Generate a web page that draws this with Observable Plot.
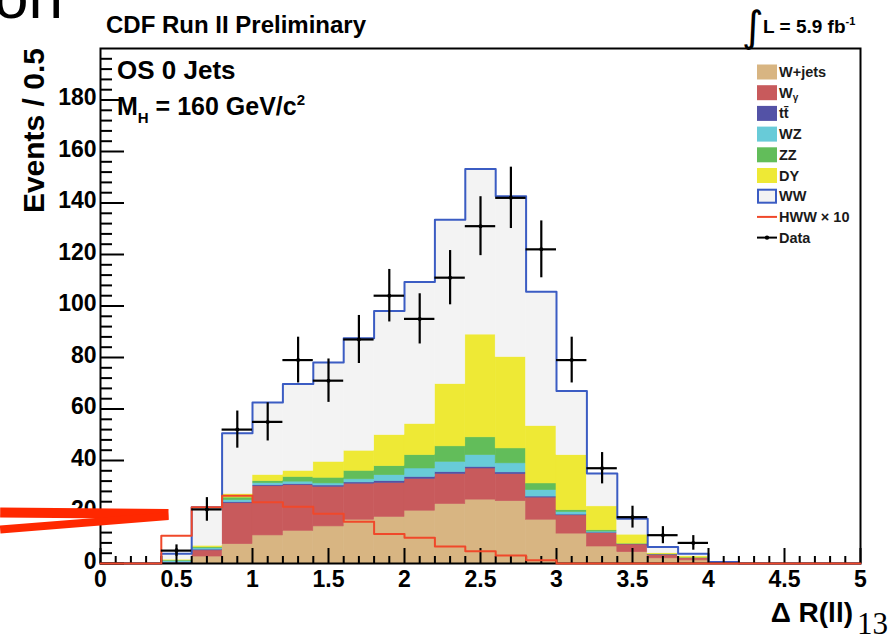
<!DOCTYPE html>
<html>
<head>
<meta charset="utf-8">
<script src="https://cdn.jsdelivr.net/npm/d3@7"></script>
<script src="https://cdn.jsdelivr.net/npm/@observablehq/plot@0.6"></script>
<style>
  html, body { margin: 0; padding: 0; background: #fff; }
  #chart { position: relative; width: 888px; height: 637px; overflow: hidden; }
  svg text { font-family: "Liberation Sans", Arial, Helvetica, sans-serif; }
</style>
</head>
<body>
<div id="chart"></div>
<script>
// ΔR(ll) distribution, OS 0 jets, MH = 160 GeV/c² — bins of 0.2
const binLow = [0.0, 0.2, 0.4, 0.6, 0.8, 1.0, 1.2, 1.4, 1.6, 1.8, 2.0, 2.2, 2.4, 2.6, 2.8, 3.0, 3.2, 3.4, 3.6, 3.8, 4.0, 4.2, 4.4, 4.6, 4.8];
const binWidth = 0.2;

// Background expectations per bin (stacked bottom to top)
const wjets  = [0, 0, 0,   2.7,  7.5, 10.9, 12.7, 14.4, 17.0, 18.1, 20.5, 23.1, 24.8, 24.2, 17.0, 11.6,  6.6, 4.4, 2.0, 1.2, 0.2, 0, 0, 0, 0];
const wgamma = [0, 0, 0.3, 2.4, 15.9, 19.1, 17.7, 15.4, 14.0, 13.2, 12.4, 11.7, 12.1, 10.5,  8.6,  7.1,  5.2, 3.0, 1.4, 1.0, 0.4, 0, 0, 0, 0];
const ttbar  = [0, 0, 0.1, 0.3,  0.4,  0.4,  0.4,  0.5,  0.5,  0.7,  0.7,  0.7,  0.6,  0.7,  0.4,  0.3,  0.2, 0.1, 0.1, 0,   0,   0, 0, 0, 0];
const wz     = [0, 0, 0.6, 0.5,  0.8,  0.8,  1.0,  0.8,  1.2,  2.3,  3.3,  4.0,  4.6,  3.5,  2.5,  1.0,  0.4, 0.1, 0,   0,   0,   0, 0, 0, 0];
const zz     = [0, 0, 0.2, 0.4,  1.0,  0.8,  1.8,  2.2,  3.3,  3.5,  5.2,  6.0,  6.9,  5.8,  2.6,  0.7,  0.5, 0.1, 0.1, 0.1, 0,   0, 0, 0, 0];
const dy     = [0, 0, 0.3, 0.6,  1.4,  2.4,  2.4,  6.2,  7.8, 12.1, 12.1, 24.2, 39.9, 35.5, 22.3, 21.4,  9.3, 3.5, 0.4, 0.5, 0,   0, 0, 0, 0];
const ww     = [0, 0, 2.3, 14.9, 23.6, 28.1, 33.7, 38.6, 43.7, 48.2, 55.1, 63.8, 64.3, 62.4, 52.1, 24.9, 12.8, 6.2, 2.4, 1.0, 0,   0, 0, 0, 0];

// Higgs signal (x10), drawn as an outline
const hww10  = [0, 0, 10.8, 21.8, 26.3, 23.8, 22.0, 19.3, 16.2, 11.5, 10.0, 6.6, 4.8, 3.1, 1.3, 0, 0, 0, 0, 0, 0, 0, 0, 0, 0];

// Observed events at bin centres
const dataX = [0.5, 0.7, 0.9, 1.1, 1.3, 1.5, 1.7, 1.9, 2.1, 2.3, 2.5, 2.7, 2.9, 3.1, 3.3, 3.5, 3.7, 3.9];
const dataN = [5, 21, 52, 55, 79, 71, 87, 104, 95, 111, 131, 142, 122, 79, 37, 18, 11, 8];

// Axis ticks
const xMajorTicks = [0, 0.5, 1, 1.5, 2, 2.5, 3, 3.5, 4, 4.5, 5];
const yMajorTicks = [0, 20, 40, 60, 80, 100, 120, 140, 160, 180];

// Legend / process styling (label = main text + optional subscript)
const processNames  = ["W+jets", "Wγ", "tt̄", "WZ", "ZZ", "DY", "WW"];
const processLabels = [["W+jets"], ["W", "γ"], ["tt̄"], ["WZ"], ["ZZ"], ["DY"], ["WW"]];
const processColors = ["#d8b582", "#c85a5c", "#5352a6", "#68cbd8", "#62bd5a", "#eee935", "#f3f3f3"];
const processValues = [wjets, wgamma, ttbar, wz, zz, dy, ww];

const W = 888, H = 637;
const mL = 100, mR = 28, mT = 48, mB = 74;
const plotW = W - mL - mR, plotH = H - mT - mB;

const wwColor = "#3b5cc3";
const hwwColor = "#f0482a";

const rects = processNames.flatMap((name, k) =>
  processValues[k].map((v, i) => ({x1: binLow[i], x2: binLow[i] + binWidth, y: v, name}))
);
const totals = binLow.map((_, i) => d3.sum(processValues, s => s[i]));
const stepOf = vals => binLow.map((x, i) => ({x, y: vals[i]})).concat([{x: binLow[binLow.length - 1] + binWidth, y: vals[vals.length - 1]}]);
const totalStep = stepOf(totals);
const hwwStep = stepOf(hww10);
const points = dataX.map((x, i) => ({x, n: dataN[i]}));

const yMinorTicks = d3.range(0, 200.01, 4).filter(v => v % 20 !== 0);
const xMinorTicks = d3.range(0, 51).map(i => i / 10).filter(v => Math.abs(v * 2 - Math.round(v * 2)) > 1e-6);

// slide arrow pointing at the signal
const arrow = [
  {x1: -0.66, y1: 19.8, x2: 0.447, y2: 19.2, w: 10},
  {x1: -0.66, y1: 13.2, x2: 0.447, y2: 18.4, w: 8}
];

const chart = Plot.plot({
  width: W, height: H,
  marginLeft: mL, marginRight: mR, marginTop: mT, marginBottom: mB,
  x: {domain: [0, 5]},
  y: {domain: [0, 200]},
  color: {domain: processNames, range: processColors},
  marks: [
    Plot.rectY(rects, {x1: "x1", x2: "x2", y: "y", fill: "name", stroke: "name", strokeWidth: 0.6}),
    Plot.line(totalStep, {x: "x", y: "y", curve: "step-after", stroke: wwColor, strokeWidth: 2}),
    Plot.frame({stroke: "black", strokeWidth: 2}),
    Plot.tickY(yMajorTicks, {y: d => d, insetRight: plotW - 24, stroke: "black", strokeWidth: 2}),
    Plot.tickY(yMinorTicks, {y: d => d, insetRight: plotW - 12, stroke: "black", strokeWidth: 2}),
    Plot.tickX(xMajorTicks, {x: d => d, insetTop: plotH - 15, stroke: "black", strokeWidth: 2}),
    Plot.tickX(xMinorTicks, {x: d => d, insetTop: plotH - 7, stroke: "black", strokeWidth: 2}),
    Plot.axisY({ticks: yMajorTicks, tickSize: 0, tickPadding: 4, fontSize: 23, fontWeight: "bold", label: null, dy: -2}),
    Plot.axisX({ticks: xMajorTicks, tickSize: 0, tickPadding: 7, fontSize: 23, fontWeight: "bold", label: null, tickFormat: d => String(d)}),
    Plot.line(hwwStep, {x: "x", y: "y", curve: "step-after", stroke: hwwColor, strokeWidth: 2}),
    Plot.ruleX(points, {x: "x", y1: d => d.n - Math.sqrt(d.n), y2: d => d.n + Math.sqrt(d.n), stroke: "black", strokeWidth: 2.2}),
    Plot.ruleY(points, {y: "n", x1: d => d.x - binWidth / 2, x2: d => d.x + binWidth / 2, stroke: "black", strokeWidth: 2.2}),
    Plot.dot(points, {x: "x", y: "n", r: 2, fill: "black"}),
    Plot.link(arrow, {x1: "x1", y1: "y1", x2: "x2", y2: "y2", stroke: "#ff2800", strokeWidth: d => d.w, strokeLinecap: "butt"})
  ]
});

document.getElementById("chart").appendChild(chart);

// Text annotations and legend, in pixel space around the frame
const svg = d3.select(chart);
const g = svg.append("g").attr("text-anchor", "start");

// header
g.append("text").attr("x", 106).attr("y", 33).attr("font-size", 24).attr("font-weight", "bold").text("CDF Run II Preliminary");
g.append("text").attr("x", 742).attr("y", 41).attr("font-size", 42).style("font-family", "'DejaVu Sans'").text("∫");
const lumi = g.append("text").attr("x", 763).attr("y", 33).attr("font-size", 19).attr("font-weight", "bold");
lumi.append("tspan").text("L = 5.9 fb");
lumi.append("tspan").attr("font-size", 11).attr("dy", -8).text("-1");

// in-frame labels
g.append("text").attr("x", 117).attr("y", 79).attr("font-size", 26).attr("font-weight", "bold").text("OS 0 Jets");
const mh = g.append("text").attr("x", 117).attr("y", 115).attr("font-size", 25).attr("font-weight", "bold");
mh.append("tspan").text("M");
mh.append("tspan").attr("font-size", 15).attr("dy", 8).text("H");
mh.append("tspan").attr("dy", -8).text(" = 160 GeV/c");
mh.append("tspan").attr("font-size", 15).attr("dy", -10).text("2");

// axis titles
g.append("text").attr("transform", "translate(44,48) rotate(-90)").attr("text-anchor", "end")
  .attr("font-size", 30).attr("font-weight", "bold").text("Events / 0.5");
g.append("text").attr("x", 853).attr("y", 622).attr("text-anchor", "end")
  .attr("font-size", 28).attr("font-weight", "bold").text("Δ R(ll)");

// legend
const legendX = 757, legendY0 = 72, legendStep = 20.7;
const legendItems = processNames.map((name, k) => ({label: processLabels[k], color: processColors[k], kind: name === "WW" ? "outline" : "box"}))
  .concat([{label: ["HWW × 10"], kind: "line"}, {label: ["Data"], kind: "data"}]);
legendItems.forEach((item, i) => {
  const cy = legendY0 + i * legendStep;
  if (item.kind === "box") {
    g.append("rect").attr("x", legendX).attr("y", cy - 7.5).attr("width", 20).attr("height", 15).attr("fill", item.color);
  } else if (item.kind === "outline") {
    g.append("rect").attr("x", legendX + 1).attr("y", cy - 6.5).attr("width", 18).attr("height", 13)
      .attr("fill", item.color).attr("stroke", wwColor).attr("stroke-width", 2);
  } else if (item.kind === "line") {
    g.append("line").attr("x1", legendX).attr("x2", legendX + 20).attr("y1", cy).attr("y2", cy).attr("stroke", hwwColor).attr("stroke-width", 2);
  } else {
    g.append("line").attr("x1", legendX).attr("x2", legendX + 20).attr("y1", cy).attr("y2", cy).attr("stroke", "black").attr("stroke-width", 2);
    g.append("circle").attr("cx", legendX + 10).attr("cy", cy).attr("r", 2.2).attr("fill", "black");
  }
  const t = g.append("text").attr("x", legendX + 22).attr("y", cy + 5).attr("font-size", 14.5).attr("font-weight", "bold")
    .attr("fill", "#1a1a1a");
  t.append("tspan").text(item.label[0]);
  if (item.label[1]) t.append("tspan").attr("font-size", 10).attr("dy", 3).text(item.label[1]);
});

// slide page residue
g.append("text").attr("x", -6).attr("y", 18).attr("font-size", 62).text("on");
g.append("text").attr("x", 857).attr("y", 634).attr("font-size", 31).style("font-family", "'Liberation Serif', serif").text("13");
</script>
</body>
</html>
